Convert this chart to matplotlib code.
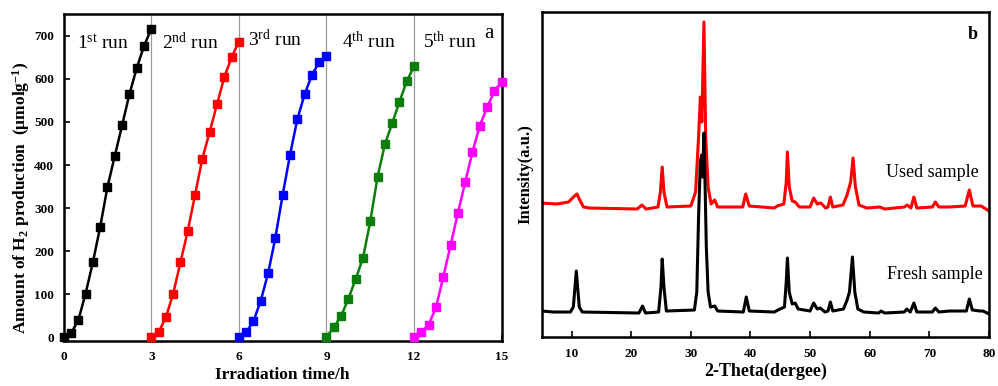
import matplotlib
matplotlib.use('Agg')
import matplotlib.pyplot as plt

plt.rcParams['font.family'] = ['Liberation Serif', 'Noto Sans CJK SC']
plt.rcParams['mathtext.fontset'] = 'custom'
plt.rcParams['mathtext.rm'] = 'Liberation Serif'
plt.rcParams['mathtext.it'] = 'Liberation Serif:italic'
plt.rcParams['mathtext.bf'] = 'Liberation Serif:bold'

# panel a: H2 production, 5 cycles of 3 h each
run_time = [0, 0.25, 0.5, 0.75, 1.0, 1.25, 1.5, 1.75, 2.0, 2.25, 2.5, 2.75, 3.0]
run1 = [0, 9, 39, 101, 174, 256, 349, 421, 492, 564, 625, 676, 717]
run2 = [0, 11, 46, 101, 174, 247, 331, 415, 477, 541, 604, 650, 687]
run3 = [0, 11, 37, 85, 148, 231, 331, 423, 506, 564, 609, 639, 653]
run4 = [0, 23, 49, 89, 135, 184, 269, 373, 448, 497, 547, 595, 629]
run5 = [0, 11, 29, 69, 140, 214, 288, 360, 431, 491, 534, 572, 594]
runs = [run1, run2, run3, run4, run5]
run_colors = ['black', '#ff0000', '#0000ff', '#0b7d0b', '#ff00ff']
run_labels = [r'1$^{\rm st}$ run', r'2$^{\rm nd}$ run', r'3$^{\rm rd}$ run',
              r'4$^{\rm th}$ run', r'5$^{\rm th}$ run']

# panel b: XRD patterns (vertices)
fresh_x = [5.0, 7.0, 9.8, 10.3, 10.8, 11.3, 11.8, 21.3, 21.9, 22.4, 24.6, 25.0, 25.2, 25.5,
           25.9, 30.6, 31.0, 31.3, 31.6, 31.8, 32.0, 32.2, 32.4, 32.6, 32.9, 33.3, 34.0,
           34.5, 38.8, 39.3, 39.8, 44.0, 44.6, 45.7, 46.0, 46.2, 46.5, 47.0, 47.5, 48.0,
           50.0, 50.6, 51.2, 51.7, 52.5, 53.0, 53.4, 53.8, 55.6, 56.2, 56.6, 57.1, 57.5,
           58.0, 59.0, 61.5, 61.9, 62.5, 65.8, 66.2, 66.8, 67.4, 67.9, 70.5, 71.0, 71.6,
           73.4, 76.2, 76.7, 77.2, 78.5, 79.0, 80.0]
fresh_y = [26, 25, 25, 30, 66, 30, 25, 24, 31, 24, 25, 50, 78, 50,
           26, 27, 45, 120, 175, 182, 160, 204, 150, 90, 45, 30, 31,
           26, 25, 40, 26, 25, 27, 30, 55, 79, 45, 33, 34, 28,
           26, 34, 28, 29, 25, 26, 35, 26, 28, 37, 45, 80, 45,
           28, 25, 24, 26, 24, 25, 28, 25, 34, 25, 25, 29, 25,
           26, 26, 38, 27, 26, 26, 23]
used_x = [5.0, 7.5, 9.5, 10.5, 10.9, 11.3, 12.0, 13.0, 21.0, 21.8, 22.5, 24.5, 24.9, 25.2,
          25.5, 26.0, 30.0, 30.8, 31.3, 31.6, 31.85, 32.2, 32.5, 32.9, 33.4, 34.0, 34.5,
          38.7, 39.2, 39.8, 44.0, 44.5, 45.6, 46.0, 46.2, 46.5, 47.0, 47.5, 48.2, 50.0,
          50.6, 51.2, 51.8, 52.6, 53.0, 53.4, 53.8, 55.5, 56.2, 56.8, 57.2, 57.6, 58.2,
          59.5, 61.7, 62.5, 65.8, 66.3, 66.9, 67.4, 67.9, 70.5, 71.0, 71.6, 73.3, 76.0,
          76.7, 77.3, 78.7, 80.0]
used_y = [134, 133, 135, 141, 143, 138, 130, 129, 128, 132, 128, 130, 145, 170,
          145, 130, 131, 145, 200, 240, 215, 315, 200, 150, 133, 137, 130,
          130, 143, 131, 129, 131, 133, 155, 185, 150, 136, 135, 130, 130,
          139, 133, 134, 129, 130, 140, 130, 132, 142, 155, 179, 150, 132,
          129, 130, 128, 130, 132, 129, 140, 129, 130, 135, 130, 130, 131,
          147, 131, 131, 126]

fig = plt.figure(figsize=(9.98, 3.86), dpi=100)
ax1 = fig.add_axes([0.0638, 0.1166, 0.4389, 0.8472])
ax2 = fig.add_axes([0.5428, 0.1269, 0.4482, 0.842])

for i, (vals, col) in enumerate(zip(runs, run_colors)):
    xs = [t + 3 * i for t in run_time]
    ax1.plot(xs, vals, '-s', color=col, lw=1.8, ms=5.5, clip_on=False, zorder=3)
for xv in [3, 6, 9, 12]:
    ax1.axvline(xv, color='#9a9a9a', lw=0.9, zorder=1)
label_x = [0.45, 3.37, 6.3, 9.54, 12.3]
label_y = [668, 670, 677, 672, 672]
for lx, ly, txt in zip(label_x, label_y, run_labels):
    ax1.text(lx, ly, txt, fontsize=14, va='baseline')
ax1.text(14.55, 705, 'a', fontsize=15, ha='center', va='center')

ax1.set_xlim(0, 15)
ax1.set_ylim(-9, 751)
ax1.set_xticks([0, 3, 6, 9, 12, 15])
ax1.set_yticks(range(0, 701, 100))
ax1.tick_params(direction='in', length=4, width=1.2, labelsize=9.5, pad=7)
for lab in ax1.get_xticklabels() + ax1.get_yticklabels():
    lab.set_fontweight('bold')
ax1.set_xlabel('Irradiation time/h', fontsize=12.5, fontweight='bold', labelpad=3)
ax1.set_ylabel('Amount of H$_\\mathbf{2}$ production  (μmolg$^\\mathbf{-1}$) ',
               fontsize=12.5, fontweight='bold')
ax1.yaxis.set_label_coords(-0.072, 0.44)
for sp in ax1.spines.values():
    sp.set_linewidth(1.8)

ax2.plot(used_x, used_y, color='#ff0000', lw=2.2)
ax2.plot(fresh_x, fresh_y, color='black', lw=2.2)
ax2.text(78.2, 165, 'Used sample', fontsize=13, ha='right', va='center')
ax2.text(78.9, 63, 'Fresh sample', fontsize=13, ha='right', va='center')
ax2.text(78.1, 303, 'b', fontsize=13, fontweight='bold', ha='right', va='center')
ax2.set_xlim(5, 80)
ax2.set_ylim(0, 325)
ax2.set_xticks(range(10, 81, 10))
ax2.set_yticks([])
ax2.tick_params(direction='in', length=4, width=1.2, labelsize=9.5, pad=8)
for lab in ax2.get_xticklabels():
    lab.set_fontweight('bold')
ax2.set_xlabel('2-Theta(dergee)', fontsize=13, fontweight='bold', labelpad=2)
ax2.set_ylabel('Intensity(a.u.)', fontsize=12, fontweight='bold', labelpad=6)
for sp in ax2.spines.values():
    sp.set_linewidth(1.8)

fig.savefig('out.png', dpi=100)
